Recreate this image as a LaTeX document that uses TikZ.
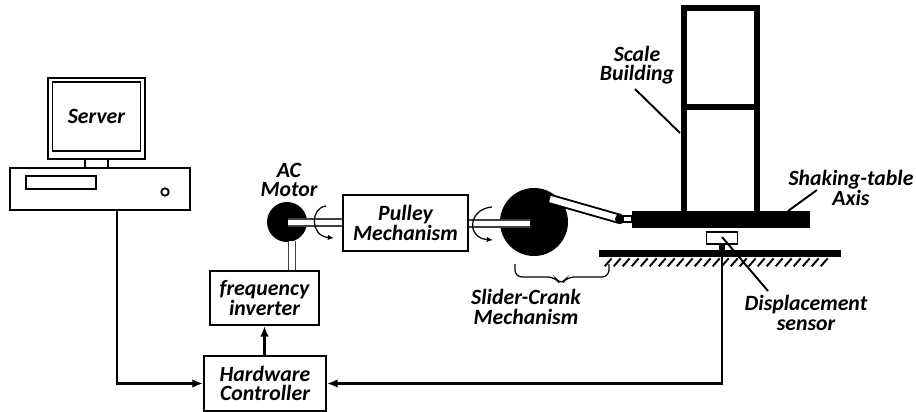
\documentclass[tikz,border=0pt]{standalone}
\usepackage{fontspec}
\setmainfont{Carlito}
\usetikzlibrary{arrows.meta,positioning,calc}

\begin{document}
\begin{tikzpicture}[
			x=0.02cm,y=-0.02cm,
			txt/.style={
				align=center,
				inner sep=0pt,
				font=\fontsize{12.4}{11}\selectfont\bfseries\itshape
			},
			box/.style={
				txt,
				draw,
				line width=1.3pt,
				fill=white
			},
			part/.style={draw,line width=1.3pt,fill=white,minimum size=0pt,inner sep=0pt},
			blob/.style={circle,fill=black,inner sep=0pt},
			slab/.style={fill=black,inner sep=0pt},
			arrow/.style={-{Latex[length=6pt,width=5pt]},line width=1.3pt},
			leader/.style={line width=1.1pt},
			shaft/.style={draw=black!75,double=white,line width=0.8pt,double distance=3.4pt},
			turn/.style={->,>={Latex[length=3.5pt,width=3pt]},line width=0.7pt},
			frame/.style={line width=3pt}
			]
			\useasboundingbox (0,0) rectangle (916,412);
			
			% computer
			\node[part,minimum width=1.94cm,minimum height=1.62cm] (monitor) at (96.5,118.5) {};
			\node[part,txt,draw,line width=1pt,minimum width=1.76cm,minimum height=1.38cm] (server) at (96.5,116.5) {Server};
			\node[part,minimum width=3.6cm,minimum height=0.84cm] (base) at (100,189) {};
			\node[part,line width=1pt,minimum width=1.4cm,minimum height=0.26cm] (slot) at (61,182.5) {};
			\node[part,line width=1pt,circle,minimum size=0.15cm] (knob) at (165,192) {};
			\draw[line width=1pt] (85,159)--(85,168) (108,159)--(108,168);
			
			% control boxes
			\node[box,minimum width=2.44cm,minimum height=1.1cm] (ctrl) at (265,383.5) {Hardware\\Controller};
			\node[box,minimum width=2.18cm,minimum height=1.08cm] (inv) at (264.5,298) {frequency\\inverter};
			\node[box,minimum width=2.5cm,minimum height=1.12cm] (pulley) at (405.5,223) {Pulley\\Mechanism};
			
			% drive
			\node[blob,minimum size=0.8cm] (motor) at (287,222) {};
			\node[blob,minimum size=1.36cm] (crank) at (534,222) {};
			\coordinate (feed) at (292,241);
			\coordinate (shaftA) at (288,222.5);
			\coordinate (shaftB) at (530,223.5);
			\draw[shaft] (shaftA)--(shaftA -| pulley.west);
			\draw[shaft] (shaftB -| pulley.east)--(shaftB);
			\draw[shaft] (feed)--(feed |- inv.north);
			\draw[turn] (326,206) .. controls (310,208) and (310,236) .. (334,238);
			\draw[turn] (492,207) .. controls (468,209) and (466,238) .. (493,240);
			\node[txt] (motorlbl) at (289,180) {AC\\Motor};
			
			% table and rod
			\node[slab,minimum width=3.56cm,minimum height=0.34cm] (table) at (721,219.5) {};
			\node[slab,minimum width=4.84cm,minimum height=0.14cm] (ground) at (720,253.5) {};
			\coordinate (rodend) at (550,199);
			\node[blob,minimum size=0.2cm] (pin) at (620,219) {};
			\draw[shaft,draw=black,double distance=3.6pt,line width=1.1pt] (rodend)--(pin.center);
			\node[blob,minimum size=0.2cm] (pinb) at (620,219) {};
			\node[part,line width=1pt,minimum width=0.18cm,minimum height=0.12cm] (link) at (627.5,219) {};
			\foreach \i in {0,...,24}
				\draw[line width=1.1pt] ($(ground.south west)+(13+9*\i,1)$)--++(-7,8);
			
			% building
			\draw[frame] (table.north -| 684,0)--(684,8)--(757,8)--(table.north -| 757,0);
			\draw[frame] (684,107)--(757,107);
			
			% sensor
			\node[part,line width=1.1pt,minimum width=0.62cm,minimum height=0.24cm] (sensor) at (722,238) {};
			\node[slab,minimum width=0.12cm,minimum height=0.14cm] (stub) at (722,247) {};
			
			% labels
			\node[txt] (scale) at (637,65) {Scale\\Building};
			\node[txt] (axis) at (851,188) {Shaking-table\\Axis};
			\node[txt] (dsens) at (806,313) {Displacement\\sensor};
			\node[txt] (slider) at (526,307) {Slider-Crank\\Mechanism};
			\coordinate (a) at (635,89);
			\coordinate (b) at (680,133);
			\coordinate (c) at (788,211);
			\coordinate (d) at (817,190);
			\coordinate (e) at (722,237);
			\coordinate (f) at (768,291);
			\draw[leader] (a)--(b);
			\draw[leader] (c)--(d);
			\draw[leader] (e)--(f);
			
			% brace
			\draw[line width=0.7pt,rounded corners=4pt] (515,264)--(515,277)--(555,277)--(561,285)--(567,277)--(609,277)--(609,264);
			
			% signals
			\draw[arrow] (base.south -| 117,0)|-(ctrl.west);
			\draw[arrow] (ctrl.north -| inv.south)--(inv.south);
			\draw[arrow] (stub.south -| 722,0)|-(ctrl.east);
			
		\end{tikzpicture}
\end{document}
